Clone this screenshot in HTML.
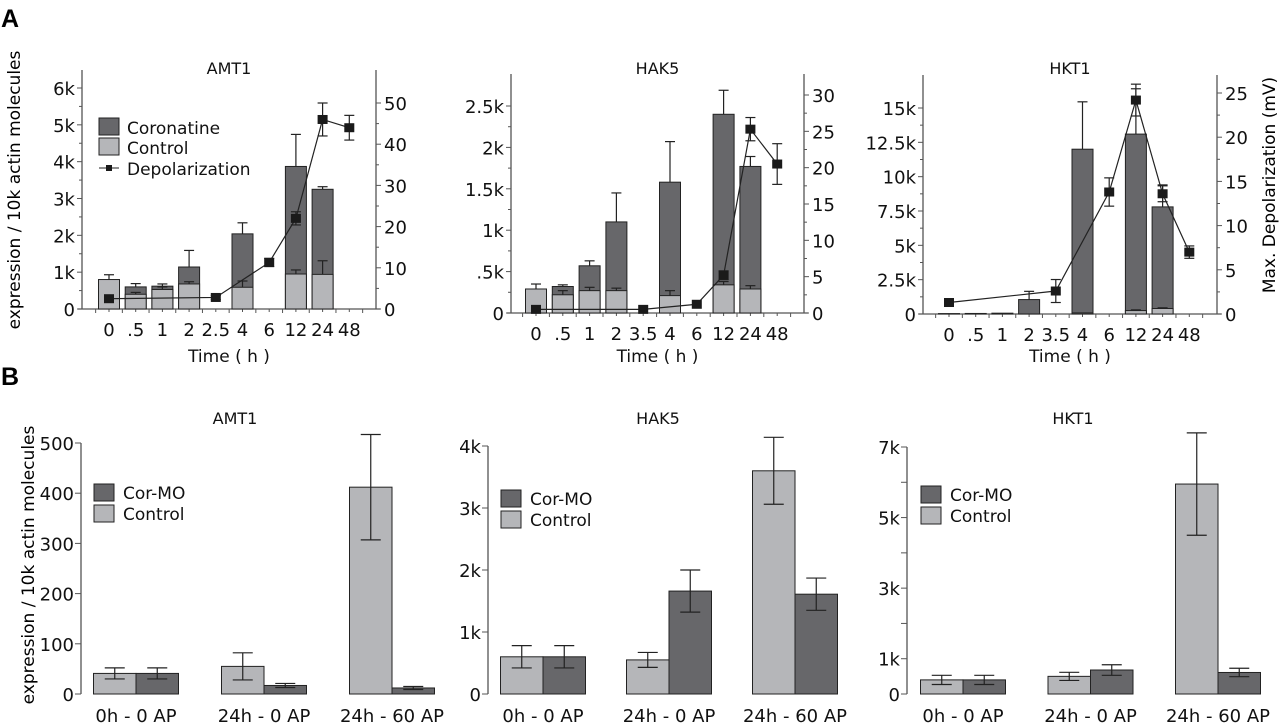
<!DOCTYPE html>
<html><head><meta charset="utf-8"><style>
html,body{margin:0;padding:0;background:#fff;}
svg{display:block;font-family:"DejaVu Sans","Liberation Sans",sans-serif;}
</style></head><body>
<svg id="fig" width="1280" height="727" viewBox="0 0 1280 727" xmlns="http://www.w3.org/2000/svg">
<text x="1" y="27" font-size="25" font-weight="bold" font-family="Liberation Sans,sans-serif">A</text>
<text x="1" y="385" font-size="25" font-weight="bold" font-family="Liberation Sans,sans-serif">B</text>
<text transform="translate(20,190) rotate(-90)" text-anchor="middle" font-size="17">expression / 10k actin molecules</text>
<text transform="translate(34,565) rotate(-90)" text-anchor="middle" font-size="17">expression / 10k actin molecules</text>
<text transform="translate(1275,185) rotate(-90)" text-anchor="middle" font-size="17">Max. Depolarization (mV)</text>
</svg>
<script>
// ---------- Panel A data ----------
const timeCatsAMT1 = ["0",".5","1","2","2.5","4","6","12","24","48"];
const timeCatsHAK5 = ["0",".5","1","2","3.5","4","6","12","24","48"];
const timeCatsHKT1 = ["0",".5","1","2","3.5","4","6","12","24","48"];
const amt1Cor = [null,600,620,1140,null,2040,null,3870,3250,null];
const amt1CorErr = [null,690,680,1590,null,2340,null,4740,3320,null];
const amt1Ctl = [800,400,530,680,null,590,null,950,940,null];
const amt1CtlErr = [930,450,600,740,null,760,null,1060,1310,null];
const amt1Dep = [2.5,null,null,null,2.8,null,11.3,22,46,44];
const amt1DepErr = [0.6,null,null,null,0.5,null,1,1.6,4,3];
const hak5Cor = [null,320,570,1100,null,1580,null,2400,1770,null];
const hak5CorErr = [null,340,630,1450,null,2070,null,2690,1890,null];
const hak5Ctl = [290,220,270,270,null,210,null,340,290,null];
const hak5CtlErr = [350,270,310,300,null,270,null,380,330,null];
const hak5Dep = [0.5,null,null,null,0.5,null,1.2,5.2,25.3,20.5];
const hak5DepErr = [0,null,null,null,0,null,0,0.6,1.6,2.8];
const hkt1Cor = [30,40,60,1050,null,12000,null,13100,7800,null];
const hkt1CorErr = [null,null,null,1650,null,15450,null,16400,9400,null];
const hkt1Ctl = [0,0,0,0,null,80,null,250,400,null];
const hkt1CtlErr = [null,null,null,null,null,null,null,300,450,null];
const hkt1Dep = [1.3,null,null,null,2.6,null,13.8,24.2,13.6,7];
const hkt1DepErr = [0,null,null,null,1.3,null,1.6,1.8,0.9,0.7];
// ---------- Panel B data ----------
const groupCats = ["0h - 0 AP","24h - 0 AP","24h - 60 AP"];
const bAmt1Ctl = [41,55,412];
const bAmt1CtlErr = [11,27,105];
const bAmt1Cor = [41,17,12];
const bAmt1CorErr = [11,4,3];
const bHak5Ctl = [600,550,3600];
const bHak5CtlErr = [180,120,540];
const bHak5Cor = [600,1660,1610];
const bHak5CorErr = [180,340,260];
const bHkt1Ctl = [400,500,5950];
const bHkt1CtlErr = [130,115,1450];
const bHkt1Cor = [400,680,610];
const bHkt1CorErr = [130,150,120];

const NS="http://www.w3.org/2000/svg";
const svg=document.getElementById('fig');
const DARK="#67676a", LIGHT="#b5b6b9", INK="#222";
function mk(tag,attrs,parent){const e=document.createElementNS(NS,tag);for(const k in attrs)e.setAttribute(k,attrs[k]);(parent||svg).appendChild(e);return e;}
function txt(x,y,s,size,anchor,parent){const t=mk('text',{x:x,y:y,'font-size':size,'text-anchor':anchor||'middle',fill:'#111'},parent);t.textContent=s;return t;}

function chartA(o){
  const g=mk('g',{});
  
  
  const yL=v=>o.y0-(v/o.lmax)*(o.y0-o.lTopY);
  const yR=v=>o.y0-(v/o.rmax)*(o.y0-o.rTopY);
  const xc=i=>o.x0+i*o.step;
  const t=txt((o.ax+o.rx)/2,74,o.name,16,'middle',g);
  
  
  mk('line',{x1:o.ax,y1:o.axTop,x2:o.ax,y2:o.y0,stroke:'#555','stroke-width':1.3},g);
  mk('line',{x1:o.rx,y1:o.axTop,x2:o.rx,y2:o.y0,stroke:'#555','stroke-width':1.3},g);
  mk('line',{x1:o.ax-4,y1:o.y0,x2:o.rx+4,y2:o.y0,stroke:'#555','stroke-width':1.3},g);
  for(let k=0;k<=o.cats.length;k++){const xx=xc(k)-o.step/2;mk('line',{x1:xx,y1:o.y0,x2:xx,y2:o.y0+4,stroke:'#555'},g);}
  for(let k=0;k<o.cats.length;k++){mk('line',{x1:xc(k),y1:o.y0,x2:xc(k),y2:o.y0+3,stroke:'#555'},g);
    const c=txt(xc(k),o.y0+27,o.cats[k],18,'middle',g);
    
    }
  o.lTicks.forEach((v,i)=>{const yy=yL(v);mk('line',{x1:o.ax-5,y1:yy,x2:o.ax,y2:yy,stroke:'#555'},g);
    const l=txt(o.ax-7,yy+7,o.lLabels[i],18,'end',g);
    
    
    if(i<o.lTicks.length-1){const ym=yL((v+o.lTicks[i+1])/2);mk('line',{x1:o.ax-3,y1:ym,x2:o.ax,y2:ym,stroke:'#555'},g);}});
  o.rTicks.forEach((v,i)=>{const yy=yR(v);mk('line',{x1:o.rx,y1:yy,x2:o.rx+5,y2:yy,stroke:'#555'},g);
    const l=txt(o.rx+8,yy+7,String(v),18,'start',g);
    
    
    if(i<o.rTicks.length-1){const ym=yR((v+o.rTicks[i+1])/2);mk('line',{x1:o.rx,y1:ym,x2:o.rx+3,y2:ym,stroke:'#555'},g);}});
  const xt=txt((o.ax+o.rx)/2,362,'Time ( h )',17,'middle',g);
  
  
  const bw=21;
  function err(x,v,e,yf){ if(e==null)return; mk('line',{x1:x,y1:yf(v),x2:x,y2:yf(e),stroke:INK,'stroke-width':1.2},g); mk('line',{x1:x-5,y1:yf(e),x2:x+5,y2:yf(e),stroke:INK,'stroke-width':1.2},g);}
  o.cats.forEach((c,i)=>{
    if(o.cor[i]!=null){const b=mk('rect',{x:xc(i)-bw/2,y:yL(o.cor[i]),width:bw,height:o.y0-yL(o.cor[i]),fill:DARK,stroke:INK,'stroke-width':1},g);
      
      
      err(xc(i),o.cor[i],o.corErr[i],yL);}
    if(o.ctl[i]!=null && o.ctl[i]>0){const b=mk('rect',{x:xc(i)-bw/2,y:yL(o.ctl[i]),width:bw,height:o.y0-yL(o.ctl[i]),fill:LIGHT,stroke:INK,'stroke-width':1},g);
      
      
      err(xc(i),o.ctl[i],o.ctlErr[i],yL);}
  });
  const pts=[];o.dep.forEach((v,i)=>{if(v!=null)pts.push([xc(i),yR(v),i]);});
  const pl=mk('polyline',{points:pts.map(p=>p[0]+','+p[1]).join(' '),fill:'none',stroke:INK,'stroke-width':1.2},g);
  
  
  pts.forEach(p=>{const i=p[2];const v=o.dep[i],e=o.depErr[i];
    if(e){mk('line',{x1:p[0],y1:yR(v-e),x2:p[0],y2:yR(v+e),stroke:INK,'stroke-width':1.2},g);
      mk('line',{x1:p[0]-5,y1:yR(v+e),x2:p[0]+5,y2:yR(v+e),stroke:INK,'stroke-width':1.2},g);
      mk('line',{x1:p[0]-5,y1:yR(v-e),x2:p[0]+5,y2:yR(v-e),stroke:INK,'stroke-width':1.2},g);}
    const m=mk('rect',{x:p[0]-5,y:p[1]-4.5,width:10,height:9,fill:'#1a1a1a'},g);
    
    });
  if(o.legend){
    const lg=mk('g',{},g);
    
    
    mk('rect',{x:99,y:118,width:20,height:17,fill:DARK,stroke:INK},lg);
    txt(127,134,'Coronatine',17,'start',lg);
    mk('rect',{x:99,y:138,width:20,height:17,fill:LIGHT,stroke:INK},lg);
    txt(127,154,'Control',17,'start',lg);
    mk('line',{x1:99,y1:168,x2:119,y2:168,stroke:INK},lg);
    mk('rect',{x:106,y:165,width:6,height:6,fill:'#1a1a1a'},lg);
    txt(127,175,'Depolarization',17,'start',lg);
  }
}

chartA({name:'AMT1',cats:timeCatsAMT1,cor:amt1Cor,corErr:amt1CorErr,ctl:amt1Ctl,ctlErr:amt1CtlErr,dep:amt1Dep,depErr:amt1DepErr,
  ax:82,rx:376,axTop:70,y0:309,x0:109,step:26.7,lmax:6000,lTopY:88,rmax:50,rTopY:103,
  lTicks:[0,1000,2000,3000,4000,5000,6000],lLabels:['0','1k','2k','3k','4k','5k','6k'],rTicks:[0,10,20,30,40,50],legend:true});
chartA({name:'HAK5',cats:timeCatsHAK5,cor:hak5Cor,corErr:hak5CorErr,ctl:hak5Ctl,ctlErr:hak5CtlErr,dep:hak5Dep,depErr:hak5DepErr,
  ax:511,rx:804,axTop:74,y0:313,x0:536,step:26.8,lmax:2500,lTopY:106,rmax:30,rTopY:95,
  lTicks:[0,500,1000,1500,2000,2500],lLabels:['0','.5k','1k','1.5k','2k','2.5k'],rTicks:[0,5,10,15,20,25,30]});
chartA({name:'HKT1',cats:timeCatsHKT1,cor:hkt1Cor,corErr:hkt1CorErr,ctl:hkt1Ctl,ctlErr:hkt1CtlErr,dep:hkt1Dep,depErr:hkt1DepErr,
  ax:923,rx:1217,axTop:75,y0:314,x0:949,step:26.7,lmax:15000,lTopY:108,rmax:25,rTopY:93,
  lTicks:[0,2500,5000,7500,10000,12500,15000],lLabels:['0','2.5k','5k','7.5k','10k','12.5k','15k'],rTicks:[0,5,10,15,20,25]});

function chartB(o){
  const g=mk('g',{});
  
  
  const y=v=>o.y0-(v/o.max)*(o.y0-o.topY);
  const t=txt(o.titleX,424,o.name,16,'middle',g);
  
  
  mk('line',{x1:o.ax,y1:o.topY,x2:o.ax,y2:o.y0,stroke:'#555','stroke-width':1.3},g);
  o.ticks.forEach((v,i)=>{const yy=y(v);mk('line',{x1:o.ax-6,y1:yy,x2:o.ax,y2:yy,stroke:'#555'},g);
    if(o.labels[i]){const l=txt(o.ax-7,yy+7,o.labels[i],18,'end',g);
      
      }});
  const bw=42.5;
  function err(x,v,e){mk('line',{x1:x,y1:y(v-e),x2:x,y2:y(v+e),stroke:INK,'stroke-width':1.2},g);
    mk('line',{x1:x-10,y1:y(v+e),x2:x+10,y2:y(v+e),stroke:INK,'stroke-width':1.2},g);
    mk('line',{x1:x-10,y1:y(v-e),x2:x+10,y2:y(v-e),stroke:INK,'stroke-width':1.2},g);}
  groupCats.forEach((c,i)=>{const gx=o.g0+i*o.gstep;
    const b1=mk('rect',{x:gx-bw,y:y(o.ctl[i]),width:bw,height:o.y0-y(o.ctl[i]),fill:LIGHT,stroke:INK,'stroke-width':1},g);
    
    
    const b2=mk('rect',{x:gx,y:y(o.cor[i]),width:bw,height:o.y0-y(o.cor[i]),fill:DARK,stroke:INK,'stroke-width':1},g);
    
    
    err(gx-bw/2,o.ctl[i],o.ctlErr[i]);err(gx+bw/2,o.cor[i],o.corErr[i]);
    const l=txt(gx,722,c,18,'middle',g);
    
    });
  const lg=mk('g',{},g);
  
  
  mk('rect',{x:o.lx,y:o.ly,width:20,height:17,fill:DARK,stroke:INK},lg);
  txt(o.lx+29,o.ly+15,'Cor-MO',17,'start',lg);
  mk('rect',{x:o.lx,y:o.ly+21,width:20,height:17,fill:LIGHT,stroke:INK},lg);
  txt(o.lx+29,o.ly+36,'Control',17,'start',lg);
}
chartB({name:'AMT1',ctl:bAmt1Ctl,ctlErr:bAmt1CtlErr,cor:bAmt1Cor,corErr:bAmt1CorErr,ax:81,y0:694,topY:443,max:500,
  ticks:[0,100,200,300,400,500],labels:['0','100','200','300','400','500'],g0:136,gstep:128,titleX:235,lx:94,ly:484});
chartB({name:'HAK5',ctl:bHak5Ctl,ctlErr:bHak5CtlErr,cor:bHak5Cor,corErr:bHak5CorErr,ax:488,y0:694,topY:446,max:4000,
  ticks:[0,1000,2000,3000,4000],labels:['0','1k','2k','3k','4k'],g0:543,gstep:126,titleX:658,lx:501,ly:490});
chartB({name:'HKT1',ctl:bHkt1Ctl,ctlErr:bHkt1CtlErr,cor:bHkt1Cor,corErr:bHkt1CorErr,ax:907,y0:694,topY:447,max:7000,
  ticks:[0,1000,2000,3000,4000,5000,6000,7000],labels:['0','1k','','3k','','5k','','7k'],g0:963,gstep:127.5,titleX:1073,lx:921,ly:486});
</script>
</body></html>
